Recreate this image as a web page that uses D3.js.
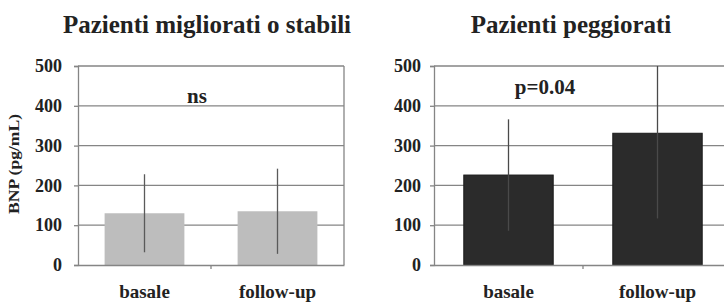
<!DOCTYPE html>
<html>
<head>
<meta charset="utf-8">
<script src="https://cdn.jsdelivr.net/npm/d3@7/dist/d3.min.js"></script>
<style>
  html, body { margin: 0; padding: 0; background: #fff; }
  svg { display: block; }
  text { font-family: "Liberation Serif", "DejaVu Serif", serif; font-weight: bold; fill: #222; }
</style>
</head>
<body>
<script>
// ── Data ────────────────────────────────────────────────────────────────
const categories = ['basale', 'follow-up'];
const yTicks     = [0, 100, 200, 300, 400, 500];

const panelTitles = ['Pazienti migliorati o stabili', 'Pazienti peggiorati'];
const panelNotes  = ['ns', 'p=0.04'];

const meanImproved = [130, 135];   // BNP pg/mL
const sdImproved   = [98, 107];
const meanWorsened = [226, 331];
const sdWorsened   = [140, 214];

const barColors = ['#bdbdbd', '#2b2b2b'];

// ── Layout ──────────────────────────────────────────────────────────────
const W = 724, H = 302;
const svg = d3.select('body').append('svg').attr('width', W).attr('height', H);

const panels = [
  { x0: 78,  x1: 344, title: panelTitles[0], titleX: 207, note: panelNotes[0], noteX: 197, noteY: 103,
    mean: meanImproved, sd: sdImproved, color: barColors[0], pad: 12, yLabel: true },
  { x0: 434, x1: 732, title: panelTitles[1], titleX: 571, note: panelNotes[1], noteX: 545, noteY: 94,
    mean: meanWorsened, sd: sdWorsened, color: barColors[1], pad: 9, yLabel: false },
];

const yTop = 66, yBot = 265;
const y = d3.scaleLinear().domain([0, 500]).range([yBot, yTop]);

panels.forEach((p, pi) => {
  const g = svg.append('g');
  const x = d3.scaleBand().domain(categories).range([p.x0, p.x1]).paddingInner(0.4).paddingOuter(0.2);
  const band = d3.scaleBand().domain(categories).range([p.x0, p.x1]);

  // gridlines
  g.selectAll('.grid').data(yTicks.slice(1)).join('line')
    .attr('x1', p.x0).attr('x2', p.x1)
    .attr('y1', d => y(d)).attr('y2', d => y(d))
    .attr('stroke', '#858585').attr('stroke-width', 1.3);

  // right border
  g.append('line').attr('x1', p.x1).attr('x2', p.x1).attr('y1', yTop).attr('y2', yBot)
    .attr('stroke', '#858585').attr('stroke-width', 1.3);

  // bars
  g.selectAll('.bar').data(categories).join('rect')
    .attr('x', d => x(d)).attr('width', x.bandwidth())
    .attr('y', (d, i) => y(p.mean[i]))
    .attr('height', (d, i) => yBot - y(p.mean[i]))
    .attr('fill', p.color)
    .attr('stroke', pi ? '#1a1a1a' : 'none').attr('stroke-width', 1);

  // error bars (clipped to plot top)
  g.selectAll('.err').data(categories).join('line')
    .attr('x1', d => x(d) + x.bandwidth() / 2).attr('x2', d => x(d) + x.bandwidth() / 2)
    .attr('y1', (d, i) => y(Math.min(500, p.mean[i] + p.sd[i])))
    .attr('y2', (d, i) => y(Math.max(0, p.mean[i] - p.sd[i])))
    .attr('stroke', pi ? '#4a4a4a' : '#5a5a5a').attr('stroke-width', 1.3);

  // y axis
  const yAxis = d3.axisLeft(y).tickValues(yTicks).tickSize(4).tickPadding(p.pad);
  const ya = g.append('g').attr('transform', `translate(${p.x0},0)`).call(yAxis);
  ya.select('.domain').attr('stroke', '#858585').attr('stroke-width', 1.3);
  ya.selectAll('.tick line').attr('stroke', '#858585').attr('stroke-width', 1.3);
  ya.selectAll('.tick text').attr('font-size', 18).attr('font-family', '"Liberation Serif", serif')
    .attr('font-weight', 'bold').attr('fill', '#222');

  // x axis
  const xAxis = d3.axisBottom(band).tickSize(0).tickPadding(20);
  const xa = g.append('g').attr('transform', `translate(0,${yBot})`).call(xAxis);
  xa.select('.domain').attr('stroke', '#858585').attr('stroke-width', 1.3);
  xa.selectAll('.tick text').attr('font-size', 19).attr('font-family', '"Liberation Serif", serif')
    .attr('font-weight', 'bold').attr('fill', '#222');
  // category divider tick
  g.append('line')
    .attr('x1', band(categories[1])).attr('x2', band(categories[1]))
    .attr('y1', yBot).attr('y2', yBot + 4)
    .attr('stroke', '#858585').attr('stroke-width', 1.3);

  // title
  g.append('text').attr('x', p.titleX).attr('y', 33)
    .attr('text-anchor', 'middle').attr('font-size', 25).text(p.title);

  // annotation
  g.append('text').attr('x', p.noteX).attr('y', p.noteY)
    .attr('text-anchor', 'middle').attr('font-size', 21).text(p.note);

  if (p.yLabel) {
    g.append('text').attr('transform', `translate(19,164) rotate(-90)`)
      .attr('text-anchor', 'middle').attr('font-size', 14)
      .attr('textLength', 100).attr('lengthAdjust', 'spacingAndGlyphs')
      .text('BNP (pg/mL)');
  }
});
</script>
</body>
</html>
